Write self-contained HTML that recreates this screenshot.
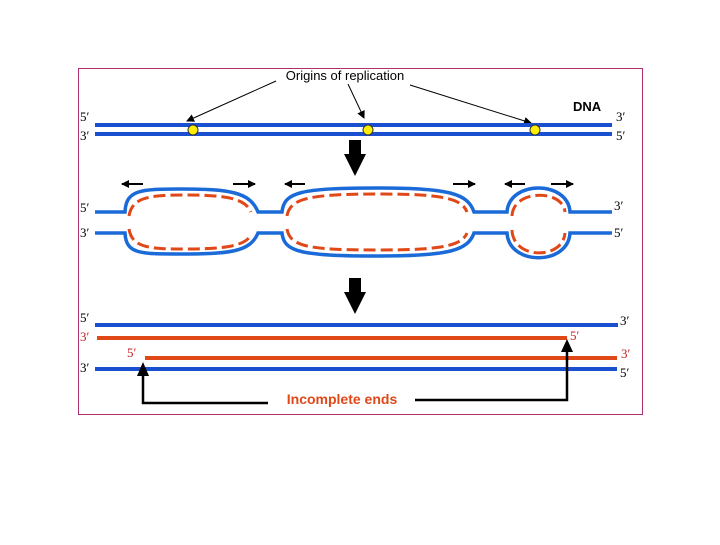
<!DOCTYPE html>
<html><head><style>body{margin:0;background:#fff}</style></head><body>
<svg width="720" height="540" xmlns="http://www.w3.org/2000/svg" font-family="Liberation Sans, sans-serif">
<defs>
<marker id="a" markerWidth="8" markerHeight="8" refX="7" refY="4" orient="auto" markerUnits="userSpaceOnUse"><path d="M0,0 L8,4 L0,8 z" fill="#000"/></marker>
</defs>
<rect x="78.5" y="68.5" width="564" height="346" fill="#fff" stroke="#b03070" stroke-width="1"/>
<text x="345" y="80" font-size="13" text-anchor="middle">Origins of replication</text>
<g stroke="#000" stroke-width="1" fill="none" marker-end="url(#a)">
<line x1="276" y1="81" x2="187" y2="121"/>
<line x1="348" y1="84" x2="364" y2="118"/>
<line x1="410" y1="85" x2="531" y2="123"/>
</g>
<text x="573" y="111" font-size="13" font-weight="bold">DNA</text>
<g stroke="#1a4fd0" stroke-width="4"><line x1="95" y1="125" x2="612" y2="125"/><line x1="95" y1="134" x2="612" y2="134"/></g>
<g fill="#ffee00" stroke="#333" stroke-width="1"><circle cx="193" cy="130" r="5"/><circle cx="368" cy="130" r="5"/><circle cx="535" cy="130" r="5"/></g>
<g font-size="13" font-family="Liberation Serif, serif">
<text x="80" y="121">5′</text><text x="80" y="140">3′</text><text x="616" y="121">3′</text><text x="616" y="140">5′</text>
<text x="80" y="212">5′</text><text x="80" y="237">3′</text><text x="614" y="210">3′</text><text x="614" y="237">5′</text>
<text x="80" y="322">5′</text><text x="80" y="372">3′</text><text x="620" y="325">3′</text><text x="620" y="377">5′</text>
<g fill="#c02020"><text x="80" y="341">3′</text><text x="570" y="340">5′</text><text x="127" y="357">5′</text><text x="621" y="358">3′</text></g>
</g>
<path d="M349,140 h12 v14 h5 l-11,22 l-11,-22 h5z" fill="#000"/>
<path d="M349,278 h12 v14 h5 l-11,22 l-11,-22 h5z" fill="#000"/>
<g stroke="#000" stroke-width="2" marker-end="url(#a)">
<line x1="143" y1="184" x2="122" y2="184"/><line x1="233" y1="184" x2="255" y2="184"/>
<line x1="305" y1="184" x2="285" y2="184"/><line x1="453" y1="184" x2="475" y2="184"/>
<line x1="525" y1="184" x2="505" y2="184"/><line x1="551" y1="184" x2="573" y2="184"/>
</g>
<g stroke="#1a6ad8" stroke-width="3.5" fill="none">
<path d="M95,212 H125 C126,190 140,189 180,189 C230,189 250,192 258,212 H282 C284,192 300,188 380,188 C450,188 468,194 474,212 H507 C509,180 568,180 570,212 H612"/>
<path d="M95,233 H125 C126,254 140,254 180,254 C230,254 250,252 258,233 H282 C284,252 300,256 380,256 C450,256 468,250 474,233 H507 C509,266 568,266 570,233 H612"/>
</g>
<g stroke="#e04818" stroke-width="3" fill="none" stroke-dasharray="12,5">
<path d="M129,216 C132,197 150,195 185,195 C225,195 245,198 251,212"/>
<path d="M129,229 C132,248 150,249 185,249 C225,249 245,246 251,235"/>
<path d="M287,216 C290,198 310,194 380,194 C440,194 462,198 467,212"/>
<path d="M287,229 C290,247 310,250 380,250 C440,250 462,246 467,233"/>
<path d="M512,216 C513,189 563,189 565,212"/>
<path d="M512,230 C513,260 563,260 565,233"/>
</g>
<g stroke-width="4">
<line x1="95" y1="325" x2="618" y2="325" stroke="#1a4fd0"/>
<line x1="97" y1="338" x2="567" y2="338" stroke="#e04818"/>
<line x1="145" y1="358" x2="617" y2="358" stroke="#e04818"/>
<line x1="95" y1="369" x2="617" y2="369" stroke="#1a4fd0"/>
</g>
<g stroke="#000" stroke-width="2.5" fill="none">
<polyline points="268,403 143,403 143,372"/>
<polyline points="415,400 567,400 567,348"/>
</g>
<path d="M137,376 L143,362 L149,376z M561,352 L567,339 L573,352z" fill="#000"/>
<text x="342" y="404" font-size="14" font-weight="bold" fill="#e04818" text-anchor="middle">Incomplete ends</text>
</svg>
</body></html>
